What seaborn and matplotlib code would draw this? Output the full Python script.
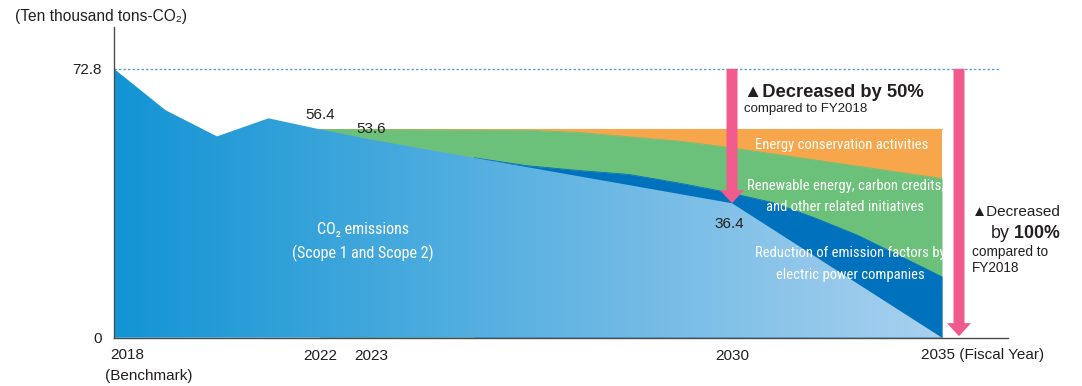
import numpy as np
import matplotlib
matplotlib.use('Agg')
import matplotlib.pyplot as plt
import seaborn as sns
from matplotlib.patches import FancyArrowPatch, ArrowStyle
from matplotlib.colors import to_rgb
import matplotlib.transforms as mtransforms

# ---------------- data ----------------
emis_years = [2018, 2019, 2020, 2021, 2022, 2023, 2030, 2035]
emis_values = [72.8, 61.6, 54.5, 59.4, 56.4, 53.6, 36.4, 0.0]

target_years = [2022, 2035]                      # top of energy conservation band
target_values = [56.4, 56.4]

renew_top_years = [2022, 2026, 2027, 2028, 2029, 2030, 2035]
renew_top_values = [56.4, 56.2, 55.6, 54.4, 53.2, 51.4, 43.1]

factor_top_years = [2025, 2026, 2027, 2028, 2029, 2030, 2031, 2032, 2033, 2034, 2035]
factor_top_values = [48.7, 46.6, 45.3, 44.2, 41.8, 39.1, 36.5, 32.3, 27.7, 22.1, 16.5]

tick_years = [2022, 2023, 2030]
tick_labels = ['2022', '2023', '2030']
baseline_value = 72.8
reduce_50_value = 36.4

# ---------------- style ----------------
sns.set_theme(style='white')
plt.rcParams['font.family'] = ['Liberation Sans', 'DejaVu Sans']
plt.rcParams['mathtext.fontset'] = 'custom'
plt.rcParams['mathtext.rm'] = 'Liberation Sans'
plt.rcParams['mathtext.bf'] = 'Liberation Sans:bold'

C_ORANGE = '#F8A64B'
C_GREEN = '#6CC17A'
C_DKBLUE = '#0071BC'
C_PINK = '#F05A8C'
C_TEXT = '#231F20'
FS = 11
COND = dict(family=['Roboto Condensed', 'Archivo Narrow', 'DejaVu Sans'], stretch='condensed',
            fontweight='normal')

fig = plt.figure(figsize=(10.82, 3.86), dpi=100)
ax = fig.add_axes([114/1082, 1-337.7/386, (1008-114)/1082, (337.7-26.7)/386])

K = 42/51.5
def fwd(x):
    x = np.asarray(x, dtype=float)
    return np.where(x <= 2030, x - 2030, (x - 2030) * K)
def inv(t):
    t = np.asarray(t, dtype=float)
    return np.where(t <= 0, t + 2030, t / K + 2030)
ax.set_xscale('function', functions=(fwd, inv))

XMIN, XMAX = 2018, 2035 + 66/42
YMAX = 84.2

# stacked bands, painted back to front
ax.fill_between(target_years, 0, target_values, color=C_ORANGE, lw=0, zorder=1)
sns.lineplot(x=target_years, y=target_values, ax=ax, color=C_ORANGE, lw=0.8, zorder=1)
ax.fill_between(renew_top_years, 0, renew_top_values, color=C_GREEN, lw=0, zorder=2)
sns.lineplot(x=renew_top_years, y=renew_top_values, ax=ax, color=C_GREEN, lw=0.6, zorder=2)
ax.fill_between(factor_top_years, 0, factor_top_values, color=C_DKBLUE, lw=0, zorder=3)
sns.lineplot(x=factor_top_years, y=factor_top_values, ax=ax, color=C_DKBLUE, lw=0.6, zorder=3)

poly = ax.fill_between(emis_years, 0, emis_values, facecolor='none', edgecolor='none', zorder=4)

ax.set_xlim(XMIN, XMAX)
ax.set_ylim(0, YMAX)

# gradient of the emission area
xfrac_end = ax.transAxes.inverted().transform(ax.transData.transform((2035, 0)))[0]
cols = np.linspace(0, 1, 600)
c0 = np.array(to_rgb('#1294D4')); c1 = np.array(to_rgb('#A9D1EF'))
t = np.clip(cols / xfrac_end, 0, 1)[:, None]
img = (c0[None, :] * (1 - t) + c1[None, :] * t)[None, :, :]
im = ax.imshow(img, extent=[0, 1, 0, 1], transform=ax.transAxes, aspect='auto',
               zorder=4, interpolation='bilinear')
im.set_clip_path(poly.get_paths()[0], poly.get_transform())
ax.set_xlim(XMIN, XMAX)
ax.set_ylim(0, YMAX)

# baseline dotted line
ax.hlines(baseline_value, XMIN, 2035 + 58/42, colors='#5B9BD5', linestyles=(0, (2, 1.6)), lw=0.9, zorder=5)

# arrows
style = ArrowStyle('simple', head_length=9.4, head_width=17.3, tail_width=7.9)
ax.add_patch(FancyArrowPatch((2030, baseline_value), (2030, reduce_50_value), arrowstyle=style,
                             mutation_scale=1, color=C_PINK, shrinkA=0, shrinkB=0, zorder=7, lw=0))
ax.add_patch(FancyArrowPatch((2035 + 17/42, baseline_value), (2035 + 17/42, 0.4), arrowstyle=style,
                             mutation_scale=1, color=C_PINK, shrinkA=0, shrinkB=0, zorder=7, lw=0))

# axes styling
for s in ['top', 'right']:
    ax.spines[s].set_visible(False)
for s in ['left', 'bottom']:
    ax.spines[s].set_color('#4D4D4D')
    ax.spines[s].set_linewidth(1.0)
    ax.spines[s].set_zorder(8)
ax.set_yticks([0, baseline_value])
ax.set_yticklabels(['0', '72.8'])
ax.set_xticks(tick_years)
ax.set_xticklabels(tick_labels)
ax.tick_params(axis='both', length=0, labelsize=FS, labelcolor=C_TEXT)
ax.tick_params(axis='y', pad=9)
ax.tick_params(axis='x', pad=8.2)
ax.set_xlabel(''); ax.set_ylabel('')
ax.grid(False)

bx = mtransforms.blended_transform_factory(ax.transData, ax.transAxes)
ax.text(2018 - 4/51.5, -0.0556, '2018', transform=bx, ha='left', va='center', fontsize=FS, color=C_TEXT)
ax.text(2018 - 9/51.5, -0.123, '(Benchmark)', transform=bx, ha='left', va='center', fontsize=FS, color=C_TEXT)
ax.text(2035 - 21/42, -0.0556, '2035 (Fiscal Year)', transform=bx, ha='left', va='center', fontsize=FS, color=C_TEXT)

fig.text(15/1082, 1 - 16/386, '(Ten thousand tons-CO₂)', ha='left', va='center', fontsize=11.2, color=C_TEXT)

# value labels
ax.annotate('56.4', xy=(2022, 56.4), xytext=(0, 10.3), textcoords='offset points', ha='center', va='center',
            fontsize=FS, color=C_TEXT, zorder=9)
ax.annotate('53.6', xy=(2023, 53.6), xytext=(0, 7.5), textcoords='offset points', ha='center', va='center',
            fontsize=FS, color=C_TEXT, zorder=9)
ax.annotate('36.4', xy=(2030, 36.4), xytext=(-2, -15), textcoords='offset points', ha='center', va='center',
            fontsize=FS, color=C_TEXT, zorder=9)

# band labels
w = dict(color='white', ha='center', va='center', zorder=9, **COND)
ax.text(2022.83, 29.4, 'CO₂ emissions', fontsize=11.5, **w)
ax.text(2022.83, 22.9, '(Scope 1 and Scope 2)', fontsize=11.5, **w)
ax.text(2032.62, 52.2, 'Energy conservation activities', fontsize=10.5, **w)
ax.text(2032.70, 41.1, 'Renewable energy, carbon credits,', fontsize=10.5, **w)
ax.text(2032.70, 35.4, 'and other related initiatives', fontsize=10.5, **w)
ax.text(2032.81, 22.9, 'Reduction of emission factors by', fontsize=10.5, **w)
ax.text(2032.81, 17.0, 'electric power companies', fontsize=10.5, **w)

# reduction callouts
ax.text(2030 + 12/42, 66.5, '▲Decreased by 50%', ha='left', va='center', fontsize=13.2, fontweight='bold',
        color=C_TEXT, zorder=9)
ax.text(2030 + 12/42, 61.9, 'compared to FY2018', ha='left', va='center', fontsize=9.5, color=C_TEXT, zorder=9)
ax.text(2035 + 30/42, 34.0, '▲Decreased', ha='left', va='center', fontsize=11, color=C_TEXT, zorder=9)
ax.text(2035 + 48/42, 28.3, r'by $\mathbf{100\%}$', ha='left', va='center', fontsize=12.8, color=C_TEXT, zorder=9)
ax.text(2035 + 30/42, 23.2, 'compared to', ha='left', va='center', fontsize=9.8, color=C_TEXT, zorder=9)
ax.text(2035 + 30/42, 18.9, 'FY2018', ha='left', va='center', fontsize=9.8, color=C_TEXT, zorder=9)

fig.savefig('out.png', dpi=100)
